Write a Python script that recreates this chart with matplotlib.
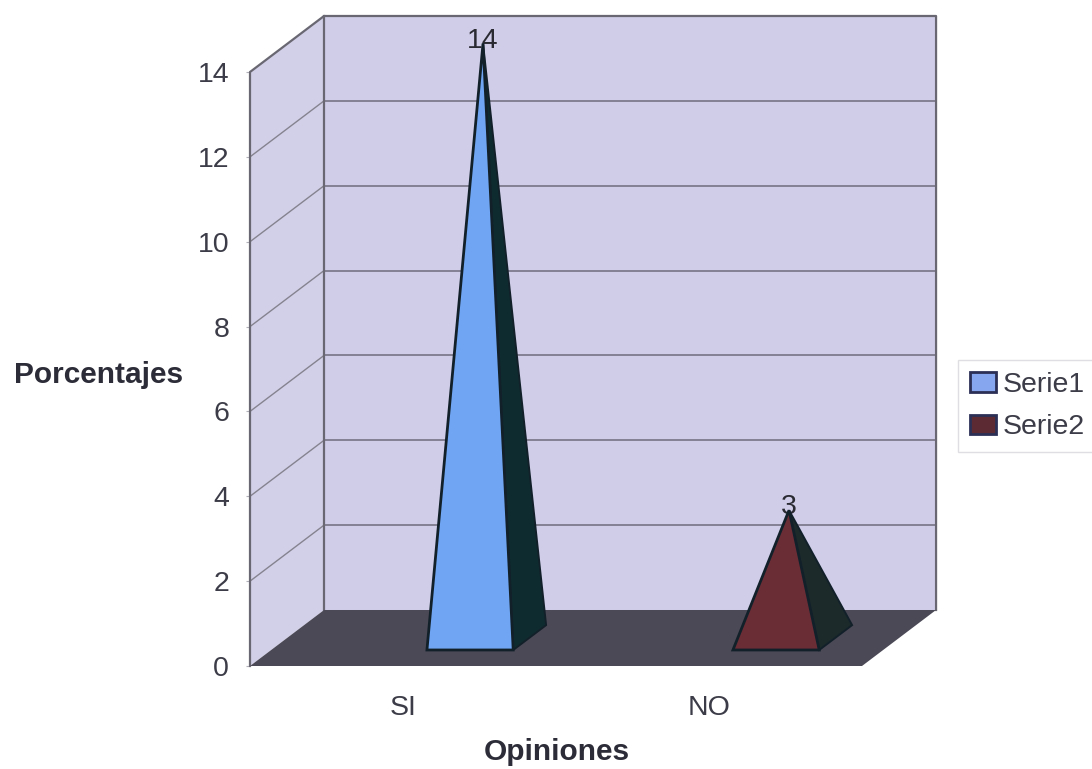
import matplotlib
matplotlib.use("Agg")
import matplotlib.pyplot as plt
from matplotlib.patches import Polygon, Patch

plt.rcParams['font.family'] = ['Liberation Sans', 'DejaVu Sans']

# Data
categories = ['SI', 'NO']
serie_names = ['Serie1', 'Serie2']
serie_values = [14, 3]
y_ticks = [0, 2, 4, 6, 8, 10, 12, 14]

# Styling / projection
W, H = 1092, 769
TXT = '#3c3c48'
FS = 20.5
DX, DY = 0.242, 1.32      # data-unit shift of the full chart depth
OFFSET, HALF = 0.15, 0.141
D0, D1 = 0.286, 0.73
APEX_SHIFT = -3.5 / 306
front_cols = ['#6fa5f2', '#6a2d36']
side_cols = ['#0e2c30', '#1d2a2a']
legend_cols = ['#86a6f0', '#5c2a33']
edge_col = '#12202a'

def P(x, v, d=0.0):
    return (x + DX * d, v + DY * d)

fig = plt.figure(figsize=(W / 100, H / 100), dpi=100, facecolor='white')
ax = fig.add_axes([250 / W, 1 - 666 / H, 612 / W, 594 / H])
ax.set_xlim(0, 2)
ax.set_ylim(0, 14)
ax.patch.set_visible(False)
for s in ax.spines.values():
    s.set_visible(False)

top = y_ticks[-1]
wall = '#cfcde8'
ax.add_patch(Polygon([P(0, 0), P(0, top), P(0, top, 1), P(0, 0, 1)], fc='#d2d0e8', ec='none', clip_on=False, zorder=1))
ax.add_patch(Polygon([P(0, 0, 1), P(0, top, 1), P(2, top, 1), P(2, 0, 1)], fc=wall, ec='none', clip_on=False, zorder=1))
ax.add_patch(Polygon([P(0, 0), P(2, 0), P(2, 0, 1), P(0, 0, 1)], fc='#4b4956', ec='none', clip_on=False, zorder=2))

# gridlines on walls
for v in y_ticks[1:-1]:
    a, b, c = P(0, v), P(0, v, 1), P(2, v, 1)
    ax.plot([a[0], b[0]], [a[1], b[1]], color='#85838f', lw=1.0, clip_on=False, zorder=1.5)
    ax.plot([b[0], c[0]], [b[1], c[1]], color='#7d7b8c', lw=1.3, clip_on=False, zorder=1.5)

# wall borders
for pts in ([P(0, 0), P(0, top), P(0, top, 1), P(2, top, 1), P(2, 0, 1)], [P(0, 0, 1), P(0, top, 1)]):
    ax.plot(*zip(*pts), color='#696872', lw=1.6, clip_on=False, zorder=1.6)

# pyramids
for i, (val, fc, sc) in enumerate(zip(serie_values, front_cols, side_cols)):
    c = i + 0.5 + OFFSET
    dm = (D0 + D1) / 2
    ax_, ay_ = P(c, val, dm)
    apex = (ax_ + APEX_SHIFT, ay_)
    fl, fr = P(c - HALF, 0, D0), P(c + HALF, 0, D0)
    br = P(c + HALF, 0, D1)
    ax.text(apex[0], apex[1] + 3 / 42.4, str(val), fontsize=FS, color='#2a2a32',
            ha='center', va='center', zorder=2.5, clip_on=False)
    ax.add_patch(Polygon([fr, br, apex], fc=sc, ec=edge_col, lw=1.4, clip_on=False, zorder=3))
    ax.add_patch(Polygon([fl, fr, apex], fc=fc, ec=edge_col, lw=2.0, clip_on=False, zorder=4))

ax.set_yticks(y_ticks)
ax.set_yticklabels([str(t) for t in y_ticks], fontsize=FS, color=TXT)
ax.tick_params(axis='y', length=3, pad=12, color='#b0b0b8')
ax.set_xticks([0.5, 1.5])
ax.set_xticklabels(categories, fontsize=FS, color=TXT)
ax.tick_params(axis='x', length=0, pad=21)

ax.set_xlabel('Opiniones', fontsize=21.5, fontweight='bold', color='#2c2c38', va='center', ha='center')
ax.xaxis.set_label_coords(307 / 612, -86 / 594)
ax.set_ylabel('Porcentajes', fontsize=21.5, fontweight='bold', color='#2c2c38', rotation=0, ha='center', va='center')
ax.yaxis.set_label_coords(-151 / 612, (666 - 375) / 594)

handles = [Patch(fc=c, ec='#2b2f55', lw=2, label=n) for c, n in zip(legend_cols, serie_names)]
leg = fig.legend(handles=handles, loc='upper left', bbox_to_anchor=(958 / W, 1 - 360 / H),
                 borderaxespad=0, fontsize=20.5, frameon=True, fancybox=False, edgecolor='#d8d8dc',
                 labelcolor=TXT, handlelength=0.92, handleheight=0.7, handletextpad=0.22,
                 labelspacing=0.58, borderpad=0.42)
leg.get_frame().set_linewidth(1.0)

fig.savefig('out.png', dpi=100)
